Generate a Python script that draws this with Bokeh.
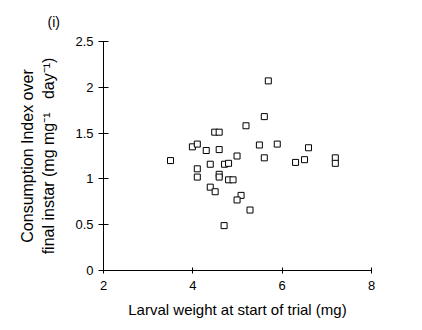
from bokeh.plotting import figure
from bokeh.models import Range1d, FixedTicker
from bokeh.embed import file_html
from bokeh.resources import INLINE

# Data
weight = [3.50, 3.99, 4.10, 4.30, 4.49, 4.59, 4.59, 4.99, 4.10, 4.39, 4.71, 4.80,
          4.10, 4.59, 4.59, 4.80, 4.90, 5.69, 5.60, 5.19, 5.49, 5.89, 6.59, 5.60,
          6.30, 6.50, 7.19, 7.19, 4.39, 4.50, 5.08, 4.99, 5.28, 4.70]
ci = [1.20, 1.35, 1.38, 1.31, 1.51, 1.51, 1.32, 1.25, 1.11, 1.16, 1.16, 1.17,
      1.02, 1.05, 1.02, 0.99, 0.99, 2.07, 1.68, 1.58, 1.37, 1.38, 1.34, 1.23,
      1.18, 1.21, 1.23, 1.17, 0.91, 0.86, 0.82, 0.77, 0.66, 0.49]

x_ticks = [2, 4, 6, 8]
x_tick_labels = ["2", "4", "6", "8"]
y_ticks = [0, 0.5, 1, 1.5, 2, 2.5]
y_tick_labels = ["0", "0.5", "1", "1.5", "2", "2.5"]

x_label = "Larval weight at start of trial (mg)"
y_label = "Consumption Index over\nfinal instar (mg mg\u207b\u00b9\u00a0\u00a0 day\u207b\u00b9)"
panel_tag = "(i)"

FONT = "Liberation Sans"

p = figure(width=422, height=330, output_backend="svg", toolbar_location=None,
           x_range=Range1d(2, 8), y_range=Range1d(0, 2.5),
           min_border_left=103, min_border_right=51, min_border_top=41,
           min_border_bottom=60)
p.outline_line_color = None
p.xgrid.visible = False
p.ygrid.visible = False
p.background_fill_color = "white"
p.border_fill_color = "white"

p.title.text = panel_tag
p.title.align = "left"
p.title.offset = -56
p.title.standoff = 23
p.title.text_font = FONT
p.title.text_font_size = "14px"
p.title.text_font_style = "normal"
p.title.text_color = "black"

p.scatter(weight, ci, marker="square", size=6, fill_color="white",
          line_color="black", line_width=1)

p.xaxis.ticker = FixedTicker(ticks=x_ticks)
p.yaxis.ticker = FixedTicker(ticks=y_ticks)
p.xaxis.major_label_overrides = dict(zip(x_ticks, x_tick_labels))
p.yaxis.major_label_overrides = dict(zip(y_ticks, y_tick_labels))

for ax in (p.xaxis, p.yaxis):
    ax.axis_line_color = "black"
    ax.axis_line_width = 1
    ax.major_tick_line_color = "black"
    ax.minor_tick_line_color = None
    ax.major_label_text_font = FONT
    ax.major_label_text_font_size = "13px"
    ax.major_label_text_color = "black"
    ax.axis_label_text_font = FONT
    ax.axis_label_text_font_style = "normal"
    ax.axis_label_text_color = "black"

p.xaxis.major_tick_in = 3
p.xaxis.major_tick_out = 3
p.yaxis.major_tick_in = 5
p.yaxis.major_tick_out = 5
p.xaxis.major_label_standoff = 7
p.yaxis.major_label_standoff = 5

p.xaxis.axis_label = x_label
p.xaxis.axis_label_text_font_size = "15px"
p.xaxis.axis_label_standoff = 8

p.yaxis.axis_label = y_label
p.yaxis.axis_label_text_font_size = "16px"
p.yaxis.axis_label_text_line_height = 1.25
p.yaxis.axis_label_standoff = 15

open("out.html", "w").write(file_html(p, INLINE))
